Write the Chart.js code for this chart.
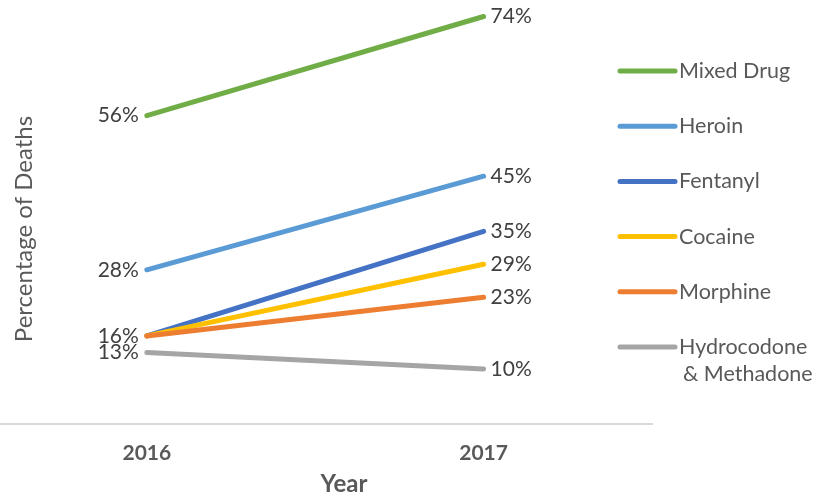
<!DOCTYPE html>
<html>
<head>
<meta charset="utf-8">
<script src="https://cdn.jsdelivr.net/npm/chart.js@4/dist/chart.umd.min.js"></script>
<style>
  html, body { margin: 0; padding: 0; background: #ffffff; }
  #wrap { width: 822px; height: 496px; position: relative; }
</style>
</head>
<body>
<div id="wrap"><canvas id="c"></canvas></div>
<script>
// ---- data ----
const years = ['2016', '2017'];
const seriesNames = ['Mixed Drug', 'Heroin', 'Fentanyl', 'Cocaine', 'Morphine', 'Hydrocodone & Methadone'];
const mixedDrug = [56, 74];
const heroin = [28, 45];
const fentanyl = [16, 35];
const cocaine = [16, 29];
const morphine = [16, 23];
const hydrocodoneMethadone = [13, 10];
const seriesColors = ['#70ad47', '#5b9bd5', '#4472c4', '#ffc000', '#ed7d31', '#a5a5a5'];
const xAxisTitle = 'Year';
const yAxisTitle = 'Percentage of Deaths';

const seriesValues = [mixedDrug, heroin, fentanyl, cocaine, morphine, hydrocodoneMethadone];
const FONT = 'Lato, "Open Sans", sans-serif';

const datasets = seriesNames.map((name, i) => ({
  label: name,
  data: years.map((y, j) => ({ x: Number(y), y: seriesValues[i][j] })),
  borderColor: seriesColors[i],
  backgroundColor: seriesColors[i],
  borderWidth: 5,
  borderCapStyle: 'round',
  pointRadius: 0,
  order: seriesNames.length - i,
  tension: 0
}));

const labelPlugin = {
  id: 'decor',
  afterDatasetsDraw(chart) {
    const ctx = chart.ctx;
    const xs = chart.scales.x, ys = chart.scales.y;
    ctx.save();
    // data labels
    ctx.font = '21px ' + FONT;
    ctx.fillStyle = '#404040';
    ctx.textBaseline = 'middle';
    const drawn = new Set();
    chart.data.datasets.forEach((ds) => {
      ds.data.forEach((p, j) => {
        const key = j + ':' + p.y;
        if (drawn.has(key)) return;
        drawn.add(key);
        const px = xs.getPixelForValue(p.x);
        const py = ys.getPixelForValue(p.y);
        if (j === 0) {
          ctx.textAlign = 'right';
          ctx.fillText(p.y + '%', px - 8, py);
        } else {
          ctx.textAlign = 'left';
          ctx.fillText(p.y + '%', px + 7, py);
        }
      });
    });
    // y axis title
    ctx.save();
    ctx.translate(24, 229);
    ctx.rotate(-Math.PI / 2);
    ctx.textAlign = 'center';
    ctx.textBaseline = 'middle';
    ctx.fillStyle = '#595959';
    ctx.font = '24px ' + FONT;
    ctx.fillText(yAxisTitle, 0, 0);
    ctx.restore();
    // x axis title
    ctx.textAlign = 'center';
    ctx.textBaseline = 'middle';
    ctx.fillStyle = '#595959';
    ctx.font = 'bold 24px ' + FONT;
    ctx.fillText(xAxisTitle, 344, 484);
    // legend
    const lx0 = 620, lx1 = 675, ly0 = 71, step = 55.2;
    chart.data.datasets.forEach((ds, i) => {
      const y = ly0 + i * step;
      ctx.strokeStyle = ds.borderColor;
      ctx.lineWidth = 5;
      ctx.lineCap = 'round';
      ctx.beginPath();
      ctx.moveTo(lx0, y);
      ctx.lineTo(lx1, y);
      ctx.stroke();
      ctx.fillStyle = '#595959';
      ctx.font = '21.5px ' + FONT;
      ctx.textAlign = 'left';
      ctx.textBaseline = 'middle';
      const parts = ds.label.split(' & ');
      if (parts.length > 1) {
        ctx.fillText(parts[0], lx1 + 4, y);
        ctx.fillText('& ' + parts[1], lx1 + 8, y + 27);
      } else {
        ctx.fillText(ds.label, lx1 + 4, y);
      }
    });
    ctx.restore();
  }
};

new Chart(document.getElementById('c'), {
  type: 'line',
  data: { datasets },
  options: {
    responsive: true,
    maintainAspectRatio: false,
    animation: false,
    layout: { padding: { left: 0, right: 170, top: 11, bottom: 0 } },
    plugins: { legend: { display: false }, tooltip: { enabled: false } },
    scales: {
      x: {
        type: 'linear',
        min: 2015.564,
        max: 2017.5,
        afterBuildTicks: (s) => { s.ticks = years.map(y => ({ value: Number(y) })); },
        afterFit: (s) => { s.height = 72; },
        ticks: {
          callback: (v) => String(v),
          color: '#595959',
          font: { family: FONT, size: 21, weight: 'bold' },
          padding: 17,
          maxRotation: 0,
          autoSkip: false
        },
        grid: { display: false, drawTicks: false, tickLength: 0 },
        border: { display: true, color: '#d9d9d9', width: 2 }
      },
      y: {
        display: false,
        min: 0,
        max: 75
      }
    }
  },
  plugins: [labelPlugin]
});
</script>
</body>
</html>
